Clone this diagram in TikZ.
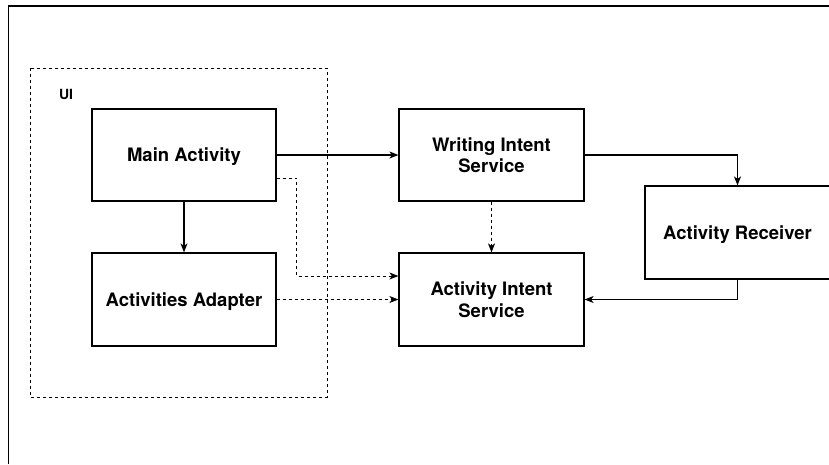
\documentclass[tikz,border=0pt]{standalone}
\usepackage{fontspec}
\setmainfont{TeX Gyre Heros}
\usetikzlibrary{arrows.meta,calc}

\tikzset{
  block/.style={draw, line width=1.2pt, fill=white, align=center,
    font=\fontsize{18.5}{21.5}\selectfont\bfseries, inner sep=0pt, text depth=0pt},
  flow/.style={line width=1.1pt, -{Stealth[length=9pt,width=7pt,inset=2.5pt]}},
  weak/.style={flow, line width=0.9pt, dash pattern=on 3pt off 3pt},
  group/.style={draw, line width=0.9pt, dash pattern=on 3pt off 3pt},
  frame/.style={line width=1.6pt}
}

\begin{document}
\begin{tikzpicture}[x=1pt, y=-1pt]
  \clip (0,0) rectangle (829,464);
  \fill[white] (0,0) rectangle (829,464);

  % outer frame (only its left and top edges fall inside the page)
  \draw[frame] (8.5,464) -- (8.5,6) -- (829,6);

  % UI group
  \draw[group] (30,68) rectangle (327,397);
  \node[font=\fontsize{14}{16}\selectfont\bfseries, anchor=west] (uilabel) at (55.5,94.5) {UI};

  % components
  \node[block, minimum width=184pt, minimum height=92pt] (main) at (184,155) {Main Activity};
  \node[block, minimum width=184pt, minimum height=93pt] (adapter) at (184,299.5) {Activities Adapter};
  \node[block, minimum width=185pt, minimum height=92pt] (writing) at (491.5,155) {Writing Intent\\Service};
  \node[block, minimum width=185pt, minimum height=93pt] (aintent) at (491.5,299.5) {Activity Intent\\Service};
  \node[block, minimum width=185pt, minimum height=93pt] (receiver) at (737.5,232.5) {Activity Receiver};

  % connections
  \draw[flow] (main.east) -- (writing.west);
  \draw[flow] (main.south) -- (adapter.north);
  \draw[weak] ([yshift=-23pt]main.east) -- ++(20,0) |- ([yshift=23.5pt]aintent.west);
  \draw[weak] (adapter.east) -- (aintent.west);
  \draw[weak] (writing.south) -- (aintent.north);
  \draw[flow] (writing.east) -| (receiver.north);
  \draw[flow] (receiver.south) |- (aintent.east);
\end{tikzpicture}
\end{document}
